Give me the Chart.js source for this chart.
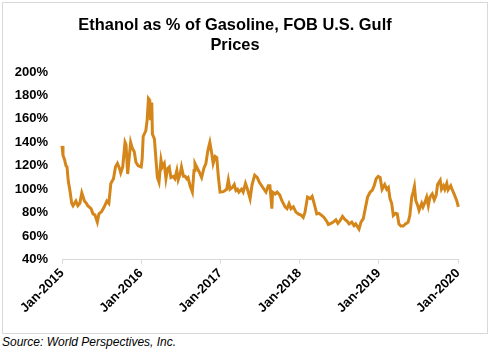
<!DOCTYPE html>
<html>
<head>
<meta charset="utf-8">
<script src="https://cdn.jsdelivr.net/npm/chart.js@4/dist/chart.umd.min.js"></script>
<style>
  body { margin: 0; background: #fff; font-family: 'Liberation Sans', Arial, sans-serif; }
  #box { position: absolute; left: 2px; top: 2px; width: 484px; height: 330px; border: 1px solid #d9d9d9; }
  #source { position: absolute; left: 2px; top: 335px; font-size: 12px; font-style: italic; color: #000; }
</style>
</head>
<body>
<div id="box"><canvas id="ratio" width="484" height="330"></canvas></div>
<div id="source">Source: World Perspectives, Inc.</div>
<script>
// months since Jan-2015, and ethanol price as % of gasoline
const months = [0, 0.15, 0.4, 0.6, 0.76, 0.95, 1.2, 1.47, 1.67, 2.1, 2.4, 2.7, 3.0, 3.4, 3.7, 3.9, 4.4, 4.7, 5.0, 5.35,
  5.6, 6.0, 6.4, 6.8, 7.1, 7.4, 7.8, 8.1, 8.4, 8.7, 8.9, 9.2, 9.55, 9.7, 9.95, 10.15, 10.4, 10.65, 10.95, 11.2,
  11.55, 12.0, 12.15, 12.3, 12.7, 12.9, 13.1, 13.3, 13.4, 13.6, 13.7, 14.0, 14.2, 14.45, 14.7, 15.0, 15.2, 15.5, 15.75, 16.0,
  16.25, 16.5, 16.85, 17.1, 17.4, 17.6, 17.9, 18.1, 18.4, 18.65, 18.9, 19.1, 19.4, 19.75, 20.0, 20.15, 20.5, 20.8, 21.15, 21.5,
  21.8, 22.1, 22.4, 22.7, 22.9, 23.2, 23.45, 23.7, 23.95, 24.45, 24.95, 25.2, 25.45, 25.8, 26.1, 26.35, 26.6, 26.8, 27.2, 27.45,
  27.8, 28.1, 28.5, 28.8, 29.2, 29.6, 29.9, 30.25, 30.6, 30.9, 31.25, 31.5, 31.8, 31.9, 32.3, 32.6, 33.0, 33.3, 33.8, 34.1,
  34.4, 34.7, 35.05, 35.45, 35.8, 36.2, 36.55, 36.8, 37.2, 37.6, 37.9, 38.2, 38.6, 38.95, 39.35, 39.7, 40.1, 40.35, 40.75, 41.1,
  41.5, 41.8, 42.1, 42.5, 42.9, 43.2, 43.5, 43.9, 44.25, 44.5, 45.0, 45.3, 45.65, 46.0, 46.3, 46.7, 47.0, 47.3, 47.6, 47.9,
  48.2, 48.5, 48.9, 49.2, 49.45, 49.7, 49.95, 50.2, 50.55, 50.8, 51.05, 51.35, 51.7, 52.05, 52.45, 52.7, 53.0, 53.2, 53.4, 53.6,
  53.9, 54.1, 54.5, 54.7, 55.0, 55.25, 55.5, 55.75, 56.1, 56.4, 56.7, 56.9, 57.3, 57.5, 57.8, 58.0, 58.3, 58.5, 58.9, 59.1,
  59.4, 59.8, 60.05, 60.3];
const ratio = [137, 129, 125, 120, 119, 107, 99, 88, 86, 90, 86, 88, 97, 90, 88, 86, 83.5, 79, 78, 72,
  79, 81, 85, 90, 88, 105, 109, 119, 122, 118, 114, 119, 140, 138, 113, 125, 140, 135, 132, 123,
  120, 119, 126, 145, 150, 159, 177.5, 176, 159, 174, 147, 143, 128, 110, 106, 125, 119, 122, 109, 117.6,
  119, 110, 111, 109, 116, 108, 113, 119, 111, 111, 109, 110, 103, 97.6, 116, 122, 118, 114.7, 110, 118,
  122, 133, 140, 130, 122, 128, 127, 110, 97.6, 98, 100, 108, 100, 101.5, 104, 99, 100, 97.6, 100, 97.6,
  105, 100, 92, 104, 112, 110, 106, 103, 100, 97.6, 103, 103, 83.4, 97.6, 96, 97.6, 95, 90.5, 85, 83.4,
  87.7, 83.4, 85, 80.5, 79, 78, 76, 80, 93.3, 92, 94, 88, 79, 79.5, 77.7, 76, 72.8, 70, 71, 72,
  74, 71, 73, 76.8, 74, 72.8, 70.4, 72, 69, 70.4, 66, 72, 75, 85, 93.3, 97.6, 99, 103, 109, 111,
  110, 100, 104, 100, 101.5, 92, 88, 77.7, 79.5, 79, 70.4, 68.6, 68.6, 70.4, 72, 77.7, 93.3, 97.6, 102.5, 90.5,
  86, 82, 88, 85, 89, 93.3, 86, 93.3, 96, 91, 95, 104, 107.6, 100, 103, 100, 105, 99.5, 103, 100,
  96, 90.5, 85, 88];
const yearTicks = [0, 12, 24, 36, 48, 60];
const yearLabels = ['Jan-2015', 'Jan-2016', 'Jan-2017', 'Jan-2018', 'Jan-2019', 'Jan-2020'];

const points = months.map((m, i) => ({ x: m, y: ratio[i] }));
const font = { family: "'Liberation Sans', Arial, sans-serif", size: 13, weight: 'bold' };

const ctx = document.getElementById('ratio').getContext('2d');
const ratioChart = new Chart(ctx, {
  type: 'line',
  data: {
    datasets: [{
      data: points,
      borderColor: '#D4861A',
      borderWidth: 3,
      pointRadius: 0,
      tension: 0,
      clip: false
    }]
  },
  options: {
    responsive: false,
    animation: false,
    layout: { padding: { left: 9, right: 29, top: 0, bottom: 15 } },
    plugins: {
      legend: { display: false },
      tooltip: { enabled: false },
      title: {
        display: true,
        text: ['Ethanol as % of Gasoline, FOB U.S. Gulf', 'Prices'],
        color: '#000',
        font: { family: "'Liberation Sans', Arial, sans-serif", size: 16.4, weight: 'bold', lineHeight: 1.22 },
        padding: { top: 12, bottom: 17 }
      }
    },
    scales: {
      x: {
        type: 'linear',
        min: 0,
        max: 60,
        afterBuildTicks: function(scale) {
          scale.ticks = yearTicks.map(v => ({ value: v }));
        },
        afterFit: function(scale) {
          // rotated labels may hang past the left edge, as in the original
          scale.paddingLeft = 0;
          scale.paddingRight = 0;
        },
        ticks: {
          color: '#000',
          font: font,
          maxRotation: 45,
          minRotation: 45,
          autoSkip: false,
          padding: 2,
          callback: function(value) {
            return yearLabels[yearTicks.indexOf(value)];
          }
        },
        grid: { drawOnChartArea: false, drawTicks: true, tickLength: 4, color: '#d9d9d9' },
        border: { display: true, color: '#d9d9d9' }
      },
      y: {
        min: 40,
        max: 200,
        afterFit: function(scale) {
          scale.width = 50;
        },
        ticks: {
          stepSize: 20,
          color: '#000',
          font: font,
          padding: 14,
          callback: function(value) {
            return value + '%';
          }
        },
        grid: { display: false, drawTicks: false },
        border: { display: false }
      }
    }
  }
});
</script>
</body>
</html>
